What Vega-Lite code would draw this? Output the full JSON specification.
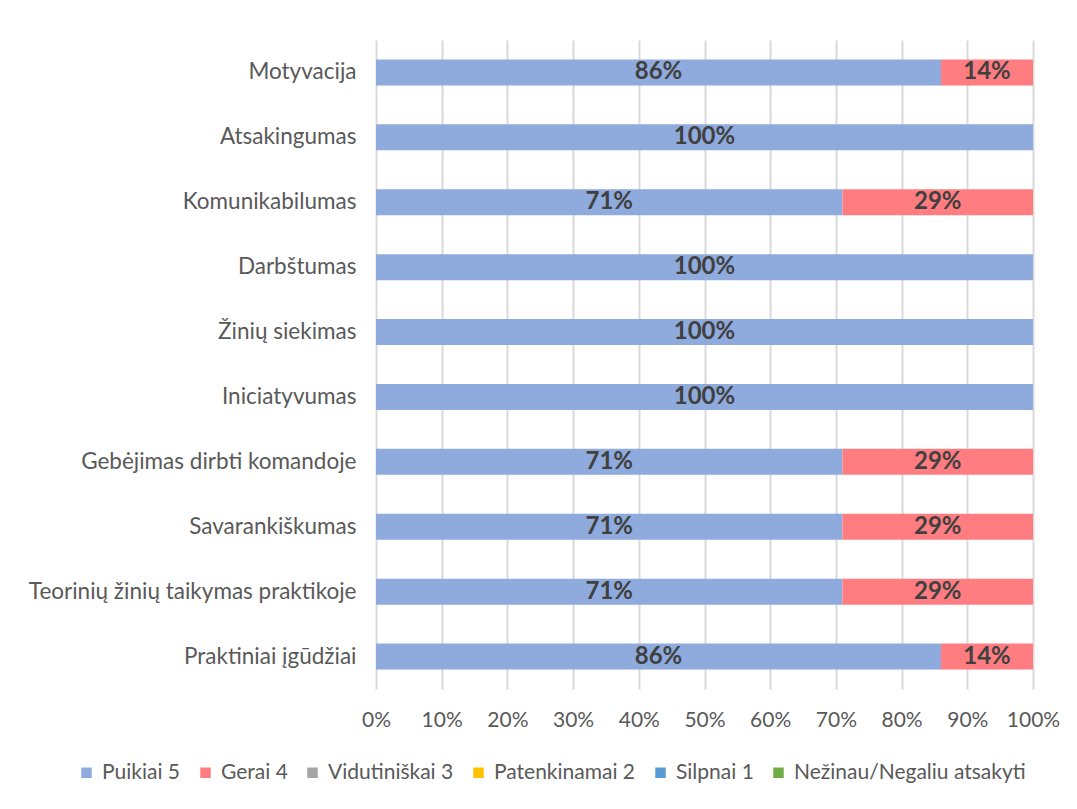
{
  "$schema": "https://vega.github.io/schema/vega-lite/v6.json",
  "autosize": "none",
  "width": 657,
  "height": 649,
  "padding": {"left": 376, "top": 40, "right": 44, "bottom": 120},
  "background": "white",
  "config": {
    "font": "Lato",
    "view": {"stroke": null},
    "axis": {"labelFont": "Lato", "labelColor": "#595959"}
  },
  "data": {
    "values": [
      {"cat": "Motyvacija", "grp": "Puikiai 5", "ord": 1, "v": 0.86},
      {"cat": "Motyvacija", "grp": "Gerai 4", "ord": 2, "v": 0.14},
      {"cat": "Atsakingumas", "grp": "Puikiai 5", "ord": 1, "v": 1.0},
      {"cat": "Komunikabilumas", "grp": "Puikiai 5", "ord": 1, "v": 0.71},
      {"cat": "Komunikabilumas", "grp": "Gerai 4", "ord": 2, "v": 0.29},
      {"cat": "Darbštumas", "grp": "Puikiai 5", "ord": 1, "v": 1.0},
      {"cat": "Žinių siekimas", "grp": "Puikiai 5", "ord": 1, "v": 1.0},
      {"cat": "Iniciatyvumas", "grp": "Puikiai 5", "ord": 1, "v": 1.0},
      {"cat": "Gebėjimas dirbti komandoje", "grp": "Puikiai 5", "ord": 1, "v": 0.71},
      {"cat": "Gebėjimas dirbti komandoje", "grp": "Gerai 4", "ord": 2, "v": 0.29},
      {"cat": "Savarankiškumas", "grp": "Puikiai 5", "ord": 1, "v": 0.71},
      {"cat": "Savarankiškumas", "grp": "Gerai 4", "ord": 2, "v": 0.29},
      {"cat": "Teorinių žinių taikymas praktikoje", "grp": "Puikiai 5", "ord": 1, "v": 0.71},
      {"cat": "Teorinių žinių taikymas praktikoje", "grp": "Gerai 4", "ord": 2, "v": 0.29},
      {"cat": "Praktiniai įgūdžiai", "grp": "Puikiai 5", "ord": 1, "v": 0.86},
      {"cat": "Praktiniai įgūdžiai", "grp": "Gerai 4", "ord": 2, "v": 0.14}
    ]
  },
  "transform": [
    {"stack": "v", "groupby": ["cat"], "sort": [{"field": "ord", "order": "ascending"}], "as": ["v0", "v1"]},
    {"calculate": "(datum.v0 + datum.v1) / 2", "as": "mid"}
  ],
  "encoding": {
    "y": {
      "field": "cat",
      "type": "nominal",
      "sort": ["Motyvacija", "Atsakingumas", "Komunikabilumas", "Darbštumas", "Žinių siekimas", "Iniciatyvumas", "Gebėjimas dirbti komandoje", "Savarankiškumas", "Teorinių žinių taikymas praktikoje", "Praktiniai įgūdžiai"],
      "scale": {"paddingInner": 0.6, "paddingOuter": 0.3},
      "axis": {"title": null, "ticks": false, "domain": false, "labelPadding": 20, "labelLimit": 400, "labelFontSize": 22.5}
    }
  },
  "layer": [
    {
      "mark": {"type": "bar"},
      "encoding": {
        "x": {
          "field": "v0",
          "type": "quantitative",
          "scale": {"domain": [0, 1], "nice": false},
          "axis": {"title": null, "format": ".0%", "values": [0, 0.1, 0.2, 0.3, 0.4, 0.5, 0.6, 0.7, 0.8, 0.9, 1.0], "grid": true, "gridColor": "#D9D9D9", "gridWidth": 2, "ticks": false, "domain": false, "labelPadding": 20, "labelFontSize": 21, "labelFlush": false, "labelOverlap": false}
        },
        "x2": {"field": "v1"},
        "color": {
          "field": "grp",
          "type": "nominal",
          "scale": {
            "domain": ["Puikiai 5", "Gerai 4", "Vidutiniškai 3", "Patenkinamai 2", "Silpnai 1", "Nežinau/Negaliu atsakyti"],
            "range": ["#8FAADC", "#FF7C80", "#A5A5A5", "#FFC000", "#5B9BD5", "#70AD47"]
          },
          "legend": {
            "title": null,
            "orient": "none",
            "legendX": -300,
            "legendY": 722,
            "direction": "horizontal",
            "symbolType": "square",
            "symbolSize": 110,
            "symbolStrokeWidth": 0,
            "labelFontSize": 21,
            "labelColor": "#595959",
            "labelFont": "Lato",
            "labelLimit": 400,
            "columnPadding": 14,
            "labelOffset": 5
          }
        }
      }
    },
    {
      "mark": {"type": "text", "fontWeight": "bold", "fontSize": 24, "color": "#404040", "font": "Lato"},
      "encoding": {
        "x": {"field": "mid", "type": "quantitative"},
        "text": {"field": "v", "type": "quantitative", "format": ".0%"}
      }
    }
  ]
}
